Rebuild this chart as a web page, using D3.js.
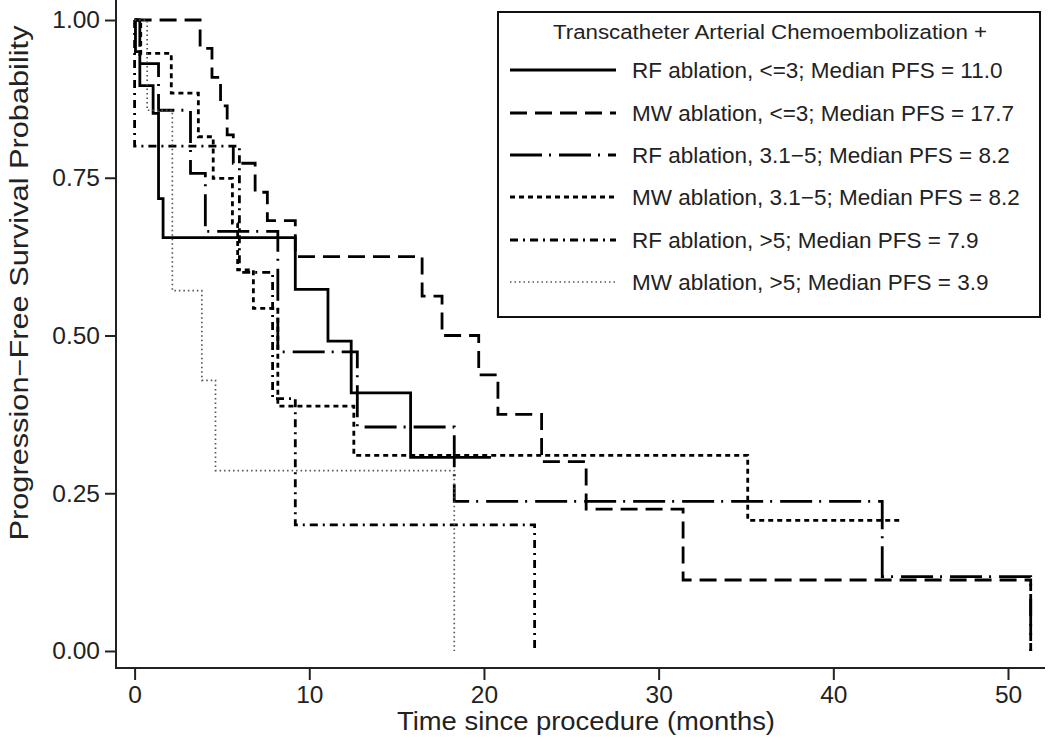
<!DOCTYPE html>
<html>
<head>
<meta charset="utf-8">
<script src="https://cdn.jsdelivr.net/npm/d3@7"></script>
<style>
  html, body { margin: 0; padding: 0; background: #fff; }
  svg { display: block; font-family: "Liberation Sans", Arial, sans-serif; }
</style>
</head>
<body>
<svg id="chart" width="1050" height="742"></svg>
<script>
// ---------------- DATA ----------------
const xTicks = [0, 10, 20, 30, 40, 50];
const yTicks = [0, 0.25, 0.5, 0.75, 1];

const legendTitle = "Transcatheter Arterial Chemoembolization +";
const seriesLabels = [
  "RF ablation, <=3; Median PFS = 11.0",
  "MW ablation, <=3; Median PFS = 17.7",
  "RF ablation, 3.1\u22125; Median PFS = 8.2",
  "MW ablation, 3.1\u22125; Median PFS = 8.2",
  "RF ablation, >5; Median PFS = 7.9",
  "MW ablation, >5; Median PFS = 3.9"
];

// RF ablation, <=3
const rfLe3Times = [0, 0.05, 0.3, 1.06, 1.37, 1.63, 9.2, 11.07, 12.4, 15.8];
const rfLe3Surv  = [1, 0.95, 0.896, 0.852, 0.717, 0.655, 0.573, 0.491, 0.409, 0.307];
const rfLe3End = 20.4;

// MW ablation, <=3
const mwLe3Times = [0, 3.75, 4.43, 4.92, 5.3, 5.65, 6.9, 7.6, 9.2, 16.46, 17.6, 19.7, 20.8, 23.3, 25.85, 31.4, 51.3];
const mwLe3Surv  = [1, 0.955, 0.909, 0.864, 0.818, 0.773, 0.727, 0.682, 0.625, 0.5625, 0.5, 0.4375, 0.375, 0.30, 0.225, 0.1125, 0];
const mwLe3End = 51.3;

// RF ablation, 3.1-5
const rfMidTimes = [0, 0.3, 1.37, 3.2, 4.05, 8.2, 12.75, 18.3, 42.8, 51.3];
const rfMidSurv  = [1, 0.931, 0.857, 0.757, 0.665, 0.474, 0.355, 0.237, 0.118, 0];
const rfMidEnd = 51.3;

// MW ablation, 3.1-5
const mwMidTimes = [0, 0.35, 2.1, 3.65, 4.5, 5.6, 5.9, 6.8, 8.2, 12.55, 35.1];
const mwMidSurv  = [1, 0.947, 0.884, 0.815, 0.749, 0.678, 0.604, 0.543, 0.388, 0.31, 0.207];
const mwMidEnd = 43.9;

// RF ablation, >5
const rfGt5Times = [0, 0, 6.0, 7.9, 9.2, 22.9];
const rfGt5Surv  = [1, 0.8, 0.6, 0.4, 0.2, 0];
const rfGt5End = 22.9;

// MW ablation, >5
const mwGt5Times = [0, 0.72, 2.16, 3.85, 4.63, 18.3];
const mwGt5Surv  = [1, 0.857, 0.571, 0.429, 0.286, 0];
const mwGt5End = 18.3;

// ---------------- STYLES ----------------
const styles = [
  { dash: null,           width: 2.8, color: "#000" },
  { dash: "17,8",         width: 2.8, color: "#000" },
  { dash: "32,7,2,8",     width: 2.8, color: "#000" },
  { dash: "5,4",          width: 2.8, color: "#000" },
  { dash: "8,5,2,5",      width: 2.8, color: "#000" },
  { dash: "1.5,3",        width: 1.7, color: "#555" }
];

const series = [
  { t: rfLe3Times, s: rfLe3Surv, end: rfLe3End },
  { t: mwLe3Times, s: mwLe3Surv, end: mwLe3End },
  { t: rfMidTimes, s: rfMidSurv, end: rfMidEnd },
  { t: mwMidTimes, s: mwMidSurv, end: mwMidEnd },
  { t: rfGt5Times, s: rfGt5Surv, end: rfGt5End },
  { t: mwGt5Times, s: mwGt5Surv, end: mwGt5End }
];

// ---------------- CHART ----------------
const svg = d3.select("#chart");
const x = d3.scaleLinear().domain([0, 50]).range([134.6, 1008]);
const y = d3.scaleLinear().domain([0, 1]).range([651, 20]);

const axisLeftX = 116, axisBottomY = 668;
const FONT = "Liberation Sans, Arial, sans-serif";

// axis lines
svg.append("line").attr("x1", axisLeftX).attr("x2", axisLeftX).attr("y1", 0).attr("y2", axisBottomY)
  .attr("stroke", "#222").attr("stroke-width", 2);
svg.append("line").attr("x1", axisLeftX - 1).attr("x2", 1045).attr("y1", axisBottomY).attr("y2", axisBottomY)
  .attr("stroke", "#222").attr("stroke-width", 2);

const yAxis = svg.append("g").attr("transform", `translate(${axisLeftX},0)`)
  .call(d3.axisLeft(y).tickValues(yTicks).tickFormat(d3.format(".2f")).tickSize(11).tickPadding(5));
yAxis.select(".domain").remove();
yAxis.selectAll(".tick line").attr("stroke", "#222").attr("stroke-width", 2);
yAxis.selectAll(".tick text").attr("font-size", 24.5).attr("fill", "#222").attr("font-family", FONT);

const xAxis = svg.append("g").attr("transform", `translate(0,${axisBottomY})`)
  .call(d3.axisBottom(x).tickValues(xTicks).tickFormat(d3.format("d")).tickSize(12).tickPadding(6));
xAxis.select(".domain").remove();
xAxis.selectAll(".tick line").attr("stroke", "#222").attr("stroke-width", 2);
xAxis.selectAll(".tick text").attr("font-size", 24.5).attr("fill", "#222").attr("font-family", FONT);

// axis titles
svg.append("text").attr("x", 586).attr("y", 730).attr("text-anchor", "middle")
  .attr("font-size", 25).attr("fill", "#222")
  .attr("textLength", 378).attr("lengthAdjust", "spacingAndGlyphs")
  .text("Time since procedure (months)");
svg.append("text").attr("transform", "translate(28,283) rotate(-90)").attr("text-anchor", "middle")
  .attr("font-size", 25).attr("fill", "#222")
  .attr("textLength", 515).attr("lengthAdjust", "spacingAndGlyphs")
  .text("Progression\u2212Free Survival Probability");

// curves
const stepLine = d3.line().x(d => x(d[0])).y(d => y(d[1])).curve(d3.curveStepAfter);
series.forEach((sr, i) => {
  const pts = sr.t.map((t, j) => [t, sr.s[j]]);
  pts.push([sr.end, sr.s[sr.s.length - 1]]);
  const st = styles[i];
  svg.append("path").attr("d", stepLine(pts)).attr("fill", "none")
    .attr("stroke", st.color).attr("stroke-width", st.width)
    .attr("stroke-dasharray", st.dash)
    .attr("stroke-linecap", "butt");
});

// legend
const lg = svg.append("g");
lg.append("rect").attr("x", 498).attr("y", 12).attr("width", 542).attr("height", 305)
  .attr("fill", "#fff").attr("stroke", "#111").attr("stroke-width", 2);
lg.append("text").attr("x", 770).attr("y", 39).attr("text-anchor", "middle")
  .attr("font-size", 20).attr("fill", "#222")
  .attr("textLength", 434).attr("lengthAdjust", "spacingAndGlyphs")
  .text(legendTitle);
const rowY = [70, 113, 155, 197, 240, 282];
seriesLabels.forEach((lab, i) => {
  const st = styles[i];
  lg.append("line").attr("x1", 510).attr("x2", 616).attr("y1", rowY[i]).attr("y2", rowY[i])
    .attr("stroke", st.color).attr("stroke-width", st.width).attr("stroke-dasharray", st.dash);
  lg.append("text").attr("x", 632).attr("y", rowY[i] + 8)
    .attr("font-size", 22.5).attr("fill", "#222").text(lab);
});
</script>
</body>
</html>
